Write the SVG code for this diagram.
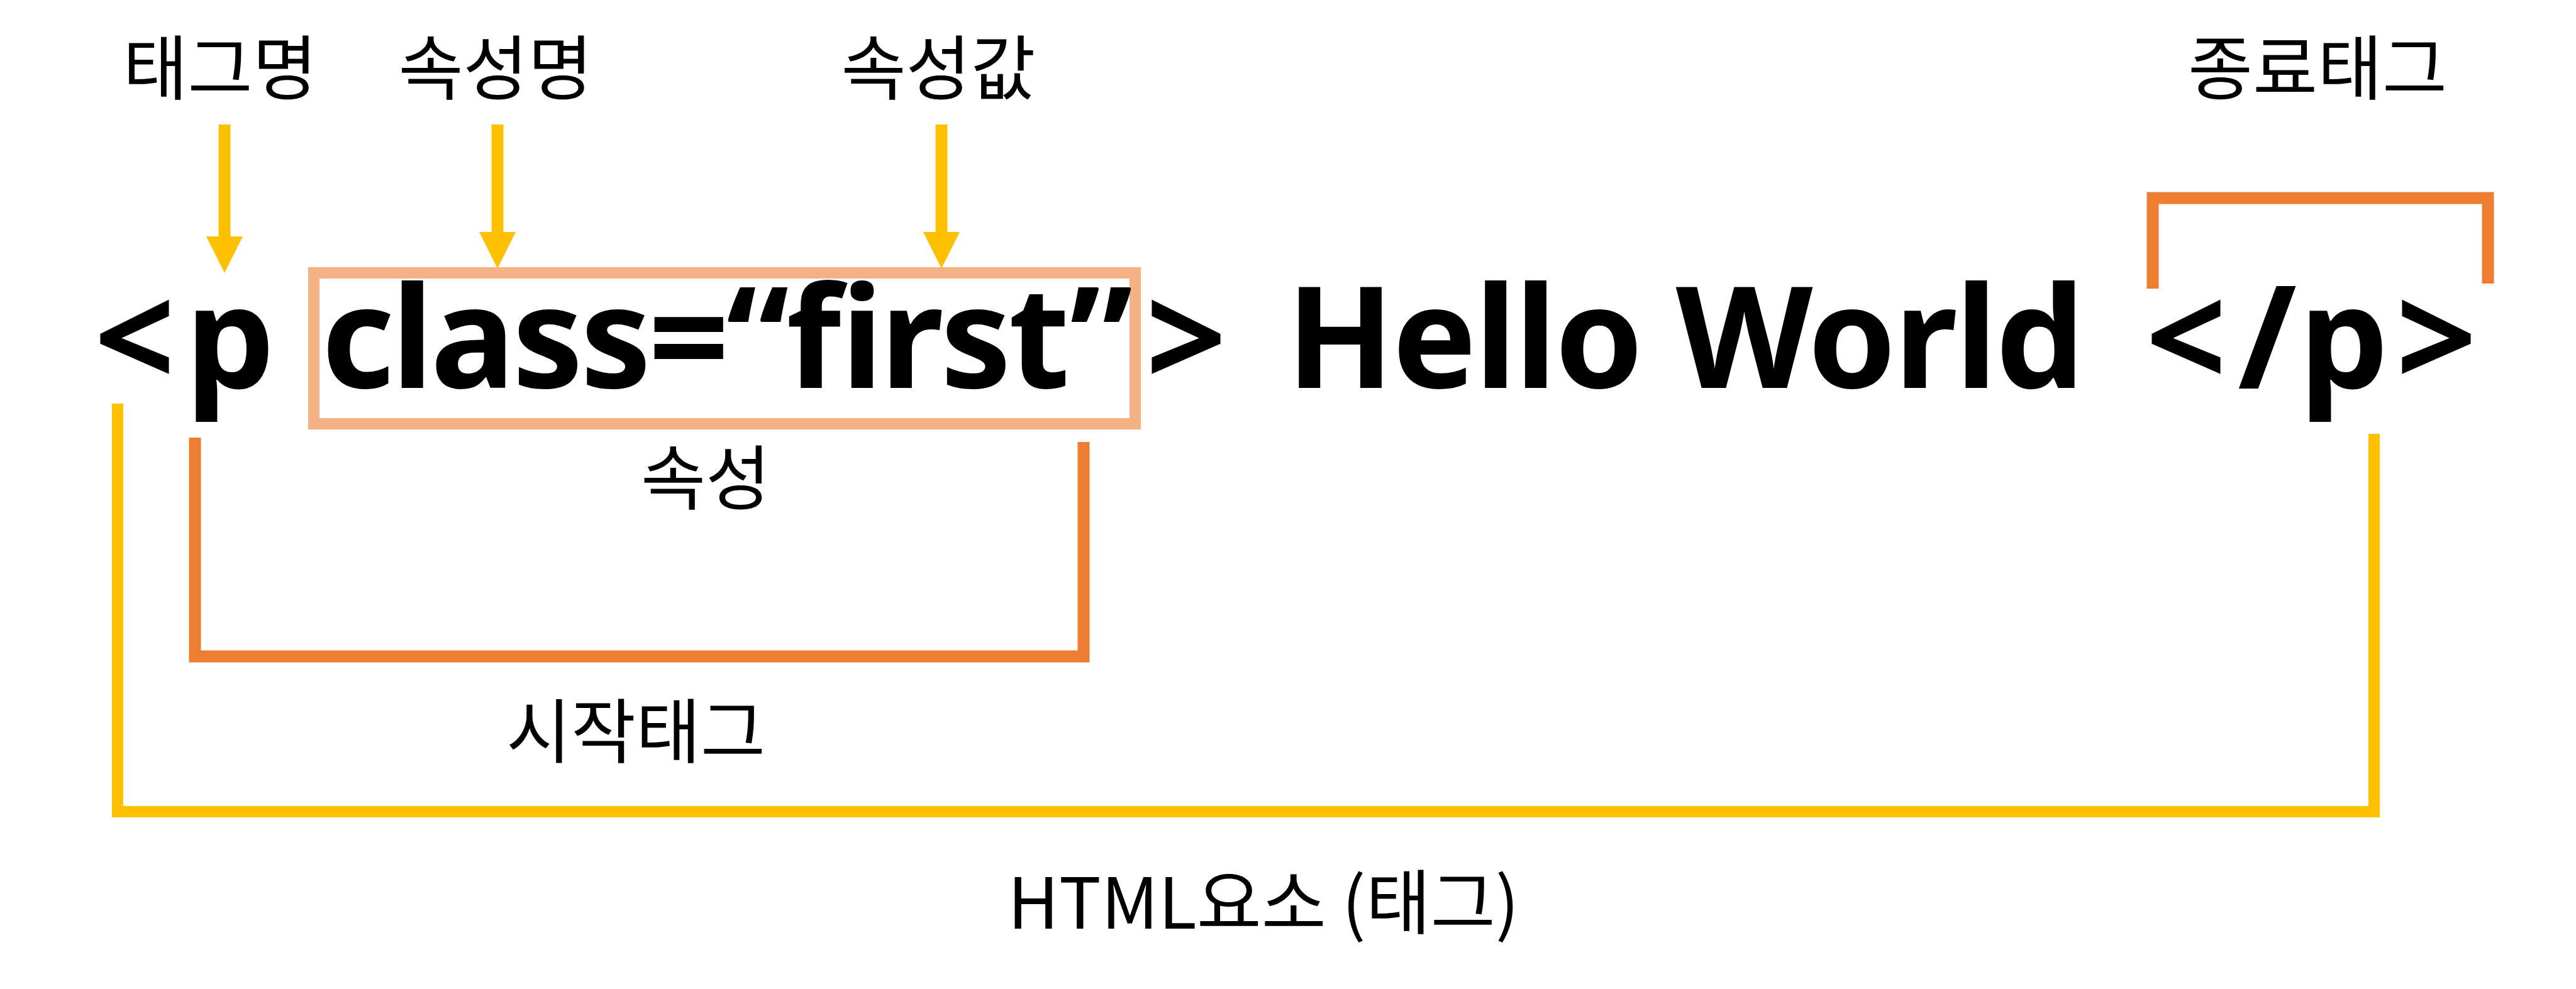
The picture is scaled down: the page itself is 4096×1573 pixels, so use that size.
<svg xmlns="http://www.w3.org/2000/svg" width="4096" height="1573" viewBox="0 0 4096 1573">
  <style>
    .code { font-family: "Noto Sans", "Open Sans", "Liberation Sans", sans-serif; font-weight: 700; font-size: 225px; fill: #000; }
    .lbl { font-family: "Noto Sans CJK KR", "Noto Sans", sans-serif; font-weight: 400; font-size: 112px; fill: #000; text-anchor: middle; }
    .arrow { stroke: #FFC000; stroke-width: 19; fill: none; }
    .yellow { stroke: #FFC000; stroke-width: 18; fill: none; }
    .orange { stroke: #ED7D31; stroke-width: 19; fill: none; }
    .attrbox { stroke: #F4B183; stroke-width: 18; fill: none; }
  </style>
  <defs>
    <marker id="head" markerUnits="userSpaceOnUse" markerWidth="58" markerHeight="58" refX="0" refY="29" orient="auto" viewBox="0 0 58 58">
      <path d="M0,0 L58,29 L0,58 z" fill="#FFC000"/>
    </marker>
  </defs>
  <rect width="4096" height="1573" fill="#fff"/>

  <g id="code-line">
    <text class="code" x="214" y="617" text-anchor="middle">&lt;</text>
    <text class="code" x="366" y="617" text-anchor="middle">p</text>
    <g id="attribute">
      <rect class="attrbox" x="499" y="434" width="1306" height="240"/>
      <text class="code" x="1156" y="617" text-anchor="middle" textLength="1290">class=“first”</text>
    </g>
    <text class="code" x="1886" y="617" text-anchor="middle">&gt;</text>
    <text class="code" x="2680" y="617" text-anchor="middle" textLength="1270">Hello World</text>
    <text class="code" x="3476" y="617" text-anchor="middle">&lt;</text>
    <text class="code" x="3605" y="617" text-anchor="middle">/</text>
    <text class="code" x="3727" y="617" text-anchor="middle">p</text>
    <text class="code" x="3874" y="617" text-anchor="middle">&gt;</text>
  </g>

  <g id="label-tagname"><text class="lbl" x="350" y="150">태그명</text></g>
  <g id="label-attrname"><text class="lbl" x="788" y="150">속성명</text></g>
  <g id="label-attrvalue"><text class="lbl" x="1492" y="150">속성값</text></g>
  <g id="label-endtag"><text class="lbl" x="3685" y="150">종료태그</text></g>
  <g id="label-attr"><text class="lbl" x="1122" y="802">속성</text></g>
  <g id="label-starttag"><text class="lbl" x="1011" y="1205">시작태그</text></g>
  <g id="label-element"><text class="lbl" x="2009" y="1477">HTML요소 (태그)</text></g>

  <g id="connectors">
    <line class="arrow" x1="357" y1="198" x2="357" y2="376" marker-end="url(#head)"/>
    <line class="arrow" x1="791" y1="198" x2="791" y2="369" marker-end="url(#head)"/>
    <line class="arrow" x1="1497" y1="198" x2="1497" y2="369" marker-end="url(#head)"/>
    <path class="orange" d="M3423 459 V315 H3956 V451"/>
    <path class="orange" d="M310 696 V1044 H1723 V703"/>
    <path class="yellow" d="M187 642 V1291 H3775 V690"/>
  </g>
</svg>
